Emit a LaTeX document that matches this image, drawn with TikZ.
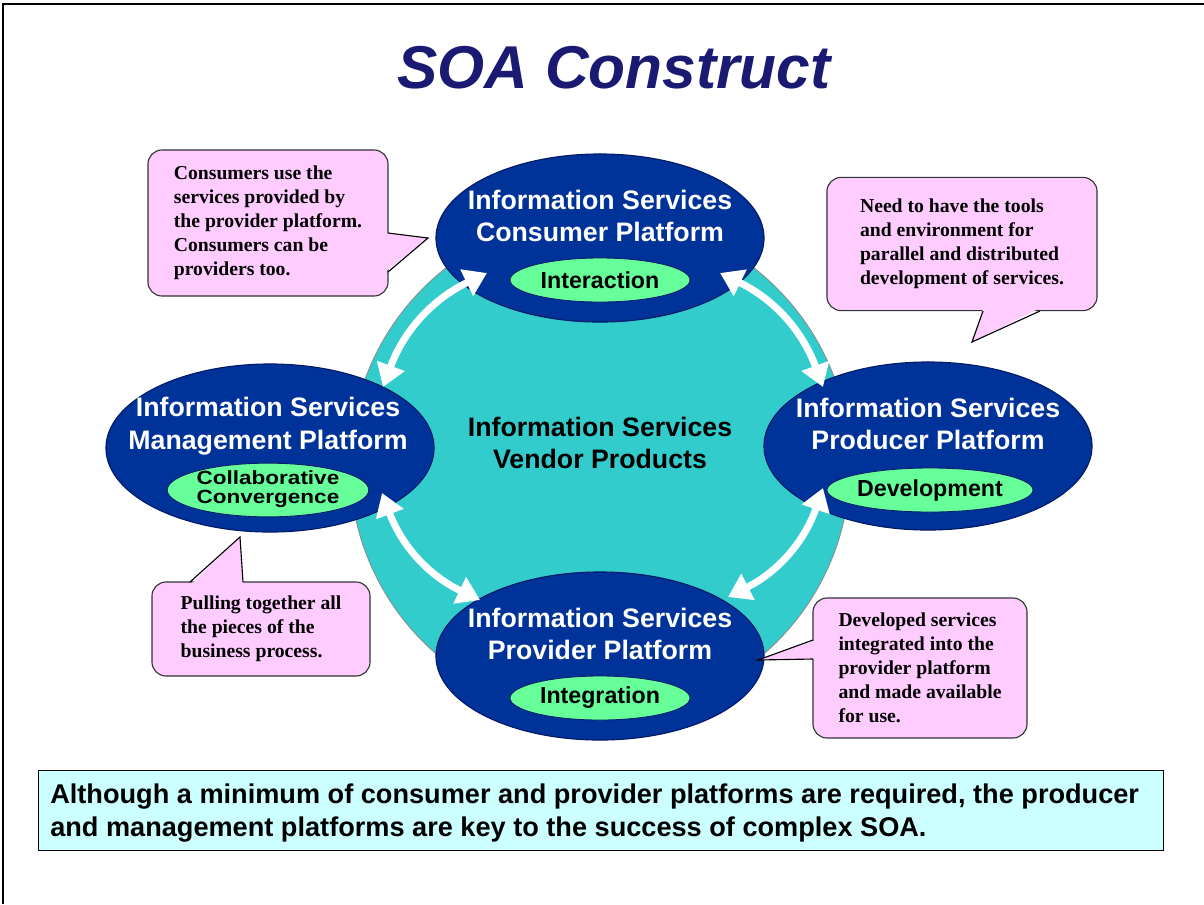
\documentclass[tikz,border=0pt]{standalone}
\usepackage{fontspec}
\setmainfont{Liberation Serif}
\newfontfamily\arialfont{Liberation Sans}
\usetikzlibrary{shapes.geometric,arrows.meta,positioning}
\definecolor{soanavy}{HTML}{003399}
\definecolor{navyedge}{HTML}{001A66}
\definecolor{titleblue}{HTML}{1A1A72}
\definecolor{ringteal}{HTML}{33CCCC}
\definecolor{actgreen}{HTML}{66FF99}
\definecolor{notepink}{HTML}{FFCCFF}
\definecolor{footcyan}{HTML}{CCFFFF}

\tikzset{
    platform/.style={ellipse, fill=soanavy, draw=navyedge, line width=0.8pt,
        minimum width=8.2cm, minimum height=4.2cm, inner sep=0pt},
    platname/.style={text=white, align=center,
        font=\arialfont\bfseries\fontsize{19}{23}\selectfont},
    activity/.style={ellipse, fill=actgreen, draw=navyedge, line width=0.6pt,
        minimum width=4.5cm, minimum height=1.1cm, inner sep=0pt,
        font=\arialfont\bfseries\fontsize{16.5}{18}\selectfont},
    callout/.style={rectangle, rounded corners=10pt, fill=notepink, draw=black!80,
        line width=0.8pt, align=left, inner sep=0pt,
        font=\bfseries\fontsize{14}{17}\selectfont},
    biarrow/.style={draw=white, line width=5pt, bend right=22,
        {Triangle[length=16pt,width=20pt]}-{Triangle[length=16pt,width=20pt]}}
}

\begin{document}
\begin{tikzpicture}[x=0.025cm, y=-0.025cm]
    \useasboundingbox (0,0) rectangle (1204,904);
    % frame
    \draw[line width=1.2pt] (3,904) -- (3,4) -- (1204,4);

    \node[font=\arialfont\bfseries\itshape\fontsize{43}{48}\selectfont, text=titleblue]
        (title) at (614,68) {SOA Construct};

    % vendor products ring
    \node[circle, fill=ringteal, draw=black!45, line width=0.6pt, minimum size=12.5cm]
        (ring) at (600,465) {};
    \node[align=center, font=\arialfont\bfseries\fontsize{19}{23}\selectfont]
        (vendor) at (600,443) {Information Services\\Vendor Products};

    % platforms
    \node[platform] (cons) at (600,238) {};
    \node[platform] (prod) at (928,446) {};
    \node[platform] (mgmt) at (270,448) {};
    \node[platform] (prov) at (600,656) {};

    \node[platname] (consname) at (600,216) {Information Services\\Consumer Platform};
    \node[platname] (prodname) at (928,424) {Information Services\\Producer Platform};
    \node[platname] (mgmtname) at (268,426) {Information Services\\Management Platform};
    \node[platname] (provname) at (600,634) {Information Services\\Provider Platform};

    \node[activity] (consact) at (600,280) {Interaction};
    \node[activity] (prodact) at (930,490) {Development};
    \node[activity, font=\arialfont\bfseries\fontsize{16}{15}\selectfont] (mgmtact) at (268,490)
        {\scalebox{1}[0.85]{\begin{tabular}{@{}c@{}}Collaborative\\Convergence\end{tabular}}};
    \node[activity] (provact) at (600,698) {Integration};

    % arrows round the ring
    \draw[biarrow] ([shift={(-113,35)}]cons.center) to ([shift={(113,-61)}]mgmt.center);
    \draw[biarrow] ([shift={(112,45)}]mgmt.center) to ([shift={(-120,-56)}]prov.center);
    \draw[biarrow] ([shift={(128,-59)}]prov.center) to ([shift={(-105,42)}]prod.center);
    \draw[biarrow] ([shift={(-105,-59)}]prod.center) to ([shift={(120,35)}]cons.center);

    % notes
    \node[callout, minimum width=6cm, minimum height=3.65cm] (consnote) at (268,223)
        {Consumers use the\\services provided by\\the provider platform.\\Consumers can be\\providers too.};
    \node[callout, minimum width=6.75cm, minimum height=3.33cm] (prodnote) at (962,244)
        {Need to have the tools\\and environment for\\parallel and distributed\\development of services.};
    \node[callout, minimum width=5.45cm, minimum height=2.35cm] (mgmtnote) at (261,629)
        {Pulling together all\\the pieces of the\\business process.};
    \node[callout, minimum width=5.35cm, minimum height=3.5cm] (provnote) at (920,668)
        {Developed services\\integrated into the\\provider platform\\and made available\\for use.};

    \coordinate (constip) at (428,238);
    \coordinate (prodtip) at (972,342);
    \coordinate (mgmttip) at (240,537);
    \coordinate (provtip) at (758,660);

    \fill[notepink] (385,233) -- (constip) -- (385,272) -- cycle;
    \draw[line width=0.8pt, line join=miter] (388,233) -- (constip) -- (388,272);
    \fill[notepink] (983,308) -- (prodtip) -- (1040,308) -- cycle;
    \draw[line width=0.8pt, line join=miter] (983,311) -- (prodtip) -- (1040,311);
    \fill[notepink] (190,585) -- (mgmttip) -- (243,585) -- cycle;
    \draw[line width=0.8pt, line join=miter] (190,582) -- (mgmttip) -- (243,582);
    \fill[notepink] (816,640) -- (provtip) -- (816,659) -- cycle;
    \draw[line width=0.8pt, line join=miter] (813,640) -- (provtip) -- (813,659);

    % summary
    \node[draw, line width=0.8pt, fill=footcyan, minimum width=28.125cm, minimum height=2cm,
        anchor=north west] (summary) at (38,770) {};
    \node[anchor=west, align=left, inner sep=0pt,
        font=\arialfont\bfseries\fontsize{19.3}{23}\selectfont] (summarytext) at (50,813)
        {Although a minimum of consumer and provider platforms are required, the producer\\
         and management platforms are key to the success of complex SOA.};
\end{tikzpicture}
\end{document}
